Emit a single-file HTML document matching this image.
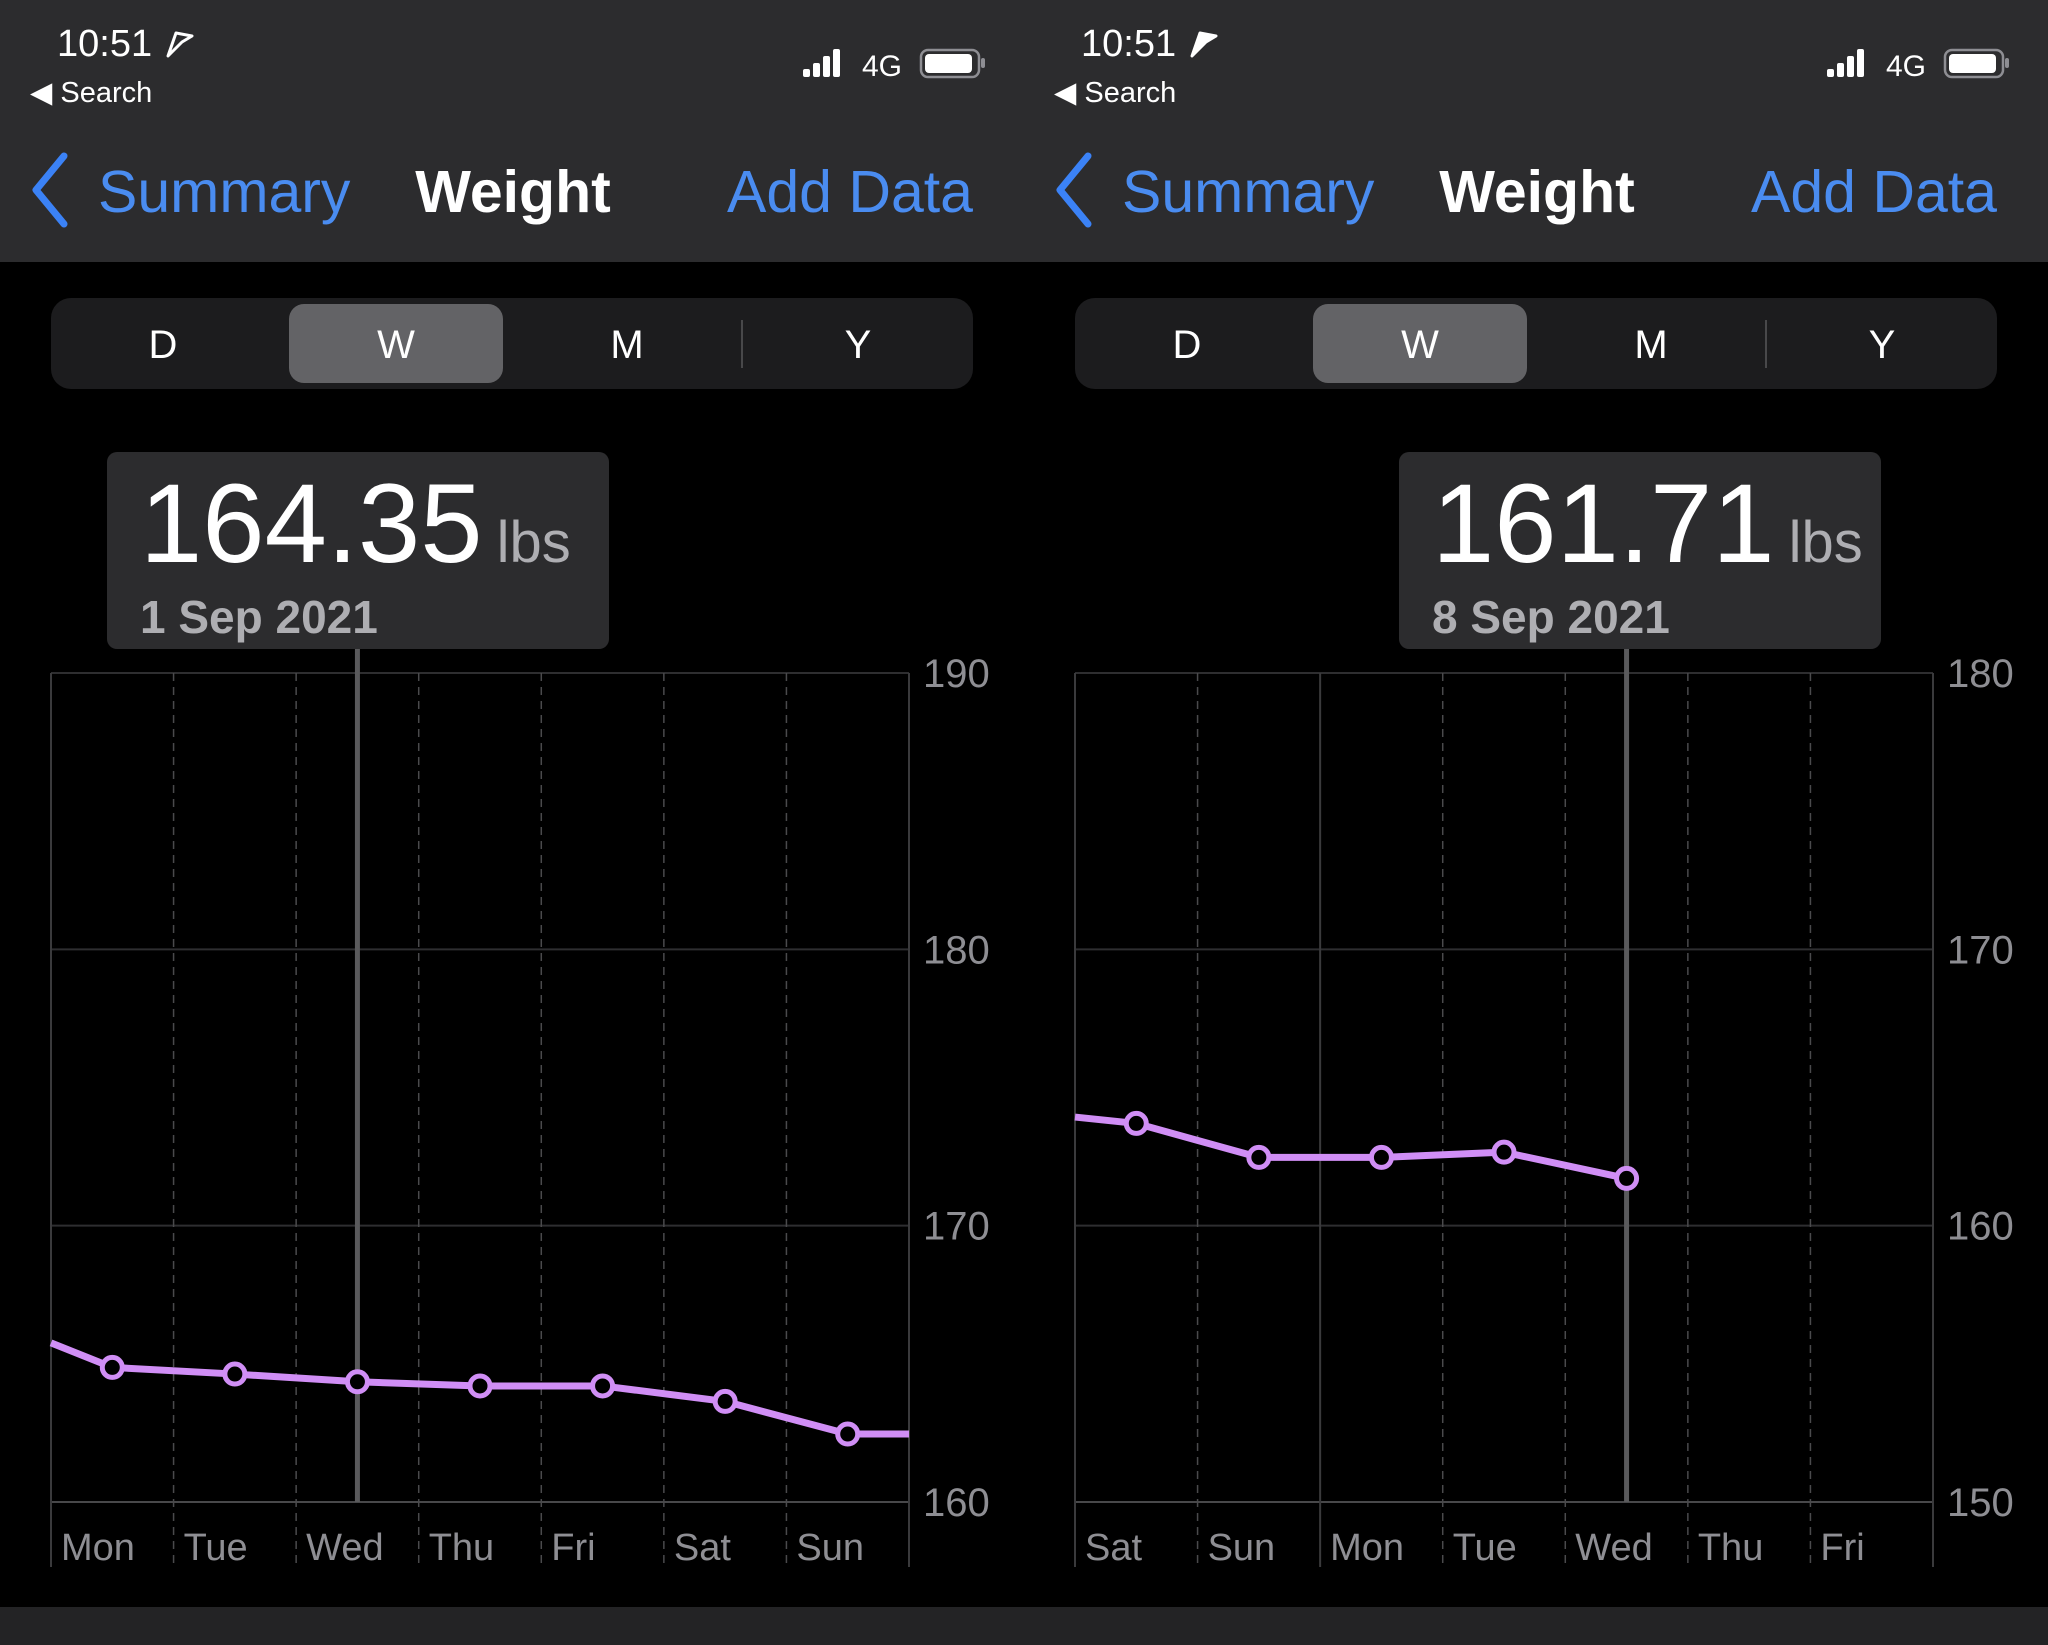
<!DOCTYPE html>
<html><head><meta charset="utf-8">
<style>
html,body{margin:0;padding:0;background:#000;}
svg{display:block;font-family:"Liberation Sans",sans-serif;}
</style></head>
<body>
<svg id="s" width="2048" height="1645" viewBox="0 0 2048 1645" xmlns="http://www.w3.org/2000/svg">
<rect x="0" y="0" width="2048" height="1645" fill="#000"/>
<rect x="0" y="1607" width="2048" height="38" fill="#232325"/>
</svg>
<script>
const leftDays = ["Mon","Tue","Wed","Thu","Fri","Sat","Sun"];
const leftValues = [164.87,164.63,164.35,164.2,164.2,163.64,162.46];
const leftLeadIn = 165.76;
const leftLeadOut = 162.46;
const leftTicks = [160,170,180,190];
const rightDays = ["Sat","Sun","Mon","Tue","Wed","Thu","Fri"];
const rightValues = [163.70,162.47,162.47,162.66,161.71];
const rightLeadIn = 163.93;
const rightTicks = [150,160,170,180];

const NS="http://www.w3.org/2000/svg";
const svg=document.getElementById('s');
function el(tag,attrs,parent,text){const e=document.createElementNS(NS,tag);for(const k in attrs)e.setAttribute(k,attrs[k]);if(text!==undefined)e.textContent=text;(parent||svg).appendChild(e);return e;}

function panel(ox,cfg){
  const g=el('g',{transform:'translate('+ox+',0)'});
  
  
  // header bg
  const hb=el('rect',{x:0,y:0,width:1024,height:262,fill:'#2c2c2e'},g);
  
  
  const t=el('text',{x:57,y:56,fill:'#fff','font-size':38},g,'10:51');
  
  
  const loc=el('path',{d:'M172 56 L180 33 L196 36 L186 42 Z',fill:cfg.locFill,stroke:'#fff','stroke-width':3,'stroke-linejoin':'round',transform:'translate(-4,0)'},g);
  
  
  const sb=el('text',{x:30,y:102,fill:'#fff','font-size':29},g,'◀ Search');
  
  
  const sig=el('g',{},g);
  
  
  [[803,69,8],[813,63,14],[823,56,21],[833,49,28]].forEach(a=>el('rect',{x:a[0],y:a[1],width:7,height:a[2],rx:2,fill:'#fff'},sig));
  const n4=el('text',{x:862,y:76,fill:'#fff','font-size':30},g,'4G');
  
  
  const bat=el('g',{},g);
  
  
  el('rect',{x:921,y:50,width:58,height:27,rx:7,fill:'none',stroke:'#8e8e93','stroke-width':2.5},bat);
  el('rect',{x:925,y:54,width:47,height:19,rx:4,fill:'#fff'},bat);
  el('rect',{x:981,y:58,width:4,height:10,rx:2,fill:'#8e8e93'},bat);
  // nav
  const back=el('g',{},g);
  
  
  el('path',{d:'M64 156 L36 190 L64 224',fill:'none',stroke:'#3b82f6','stroke-width':7,'stroke-linecap':'round','stroke-linejoin':'round'},back);
  el('text',{x:98,y:212,fill:'#4a8cf0','font-size':59},back,'Summary');
  const tt=el('text',{x:513,y:212,fill:'#fff','font-size':59,'font-weight':'bold','text-anchor':'middle'},g,'Weight');
  
  
  const ad=el('text',{x:973,y:212,fill:'#4a8cf0','font-size':59,'text-anchor':'end'},g,'Add Data');
  
  
  // segmented control
  const seg=el('g',{},g);
  
  
  el('rect',{x:51,y:298,width:922,height:91,rx:20,fill:'#1c1c1e'},seg);
  el('rect',{x:289,y:304,width:214,height:79,rx:15,fill:'#636366'},seg);
  el('line',{x1:742,y1:320,x2:742,y2:368,stroke:'#48484a','stroke-width':2},seg);
  [['D',163],['W',396],['M',627],['Y',858]].forEach(a=>{
    const s=el('text',{x:a[1],y:358,fill:'#fff','font-size':40,'text-anchor':'middle'},seg,a[0]);
    
    
  });
  // chart
  const L=51,R=909,T=673,B=1502,cw=(R-L)/7;
  const ymin=cfg.ticks[0],ymax=cfg.ticks[cfg.ticks.length-1];
  const y=v=>B-(v-ymin)/(ymax-ymin)*(B-T);
  const x=i=>L+cw*(i+0.5);
  cfg.ticks.forEach(v=>{
    const ln=el('line',{x1:L,y1:y(v),x2:R,y2:y(v),stroke:v===ymin?'#48484a':'#2e2e30','stroke-width':2},g);
    
    
    const lb=el('text',{x:923,y:y(v)+14,fill:'#8e8e93','font-size':40},g,String(v));
    
    
  });
  for(let i=0;i<=7;i++){
    const solid=(i===0||i===7||i===cfg.solidAt);
    const vl=el('line',{x1:L+cw*i,y1:T,x2:L+cw*i,y2:1567,stroke:solid?'#3a3a3c':'#4a4a4c','stroke-width':solid?2:1.5,'stroke-dasharray':solid?'none':'8 6'},g);
    
    
  }
  cfg.days.forEach((d,i)=>{
    const dl=el('text',{x:L+cw*i+10,y:1560,fill:'#8e8e93','font-size':38},g,d);
    
    
  });
  const sel=cfg.sel;
  const cur=el('line',{x1:x(sel),y1:649,x2:x(sel),y2:B,stroke:'#5a5a5c','stroke-width':5},g);
  
  
  const pts=[[L,y(cfg.leadIn)]];
  cfg.values.forEach((v,i)=>pts.push([x(i),y(v)]));
  if(cfg.leadOut!==null) pts.push([R,y(cfg.leadOut)]);
  const line=el('polyline',{points:pts.map(p=>p.join(',')).join(' '),fill:'none',stroke:'#d08ef5','stroke-width':7,'stroke-linejoin':'round'},g);
  
  
  cfg.values.forEach((v,i)=>{
    const c=el('circle',{cx:x(i),cy:y(v),r:10,fill:'#000',stroke:'#d08ef5','stroke-width':5},g);
    
    
  });
  // tooltip
  const tip=el('g',{},g);
  
  
  el('rect',{x:cfg.tipX,y:452,width:cfg.tipW,height:197,rx:10,fill:'#2c2c2e'},tip);
  const tv=el('text',{x:cfg.tipX+33,y:562,fill:'#fff','font-size':112},tip);
  el('tspan',{},tv,cfg.values[sel].toFixed(2));
  el('tspan',{fill:'#aeaeb2','font-size':58,dx:14},tv,'lbs');
  el('text',{x:cfg.tipX+33,y:633,fill:'#aeaeb2','font-size':46,'font-weight':'bold'},tip,cfg.date);
}
panel(0,{name:'left-screen',days:leftDays,values:leftValues,leadIn:leftLeadIn,leadOut:leftLeadOut,ticks:leftTicks,sel:2,solidAt:0,tipX:107,tipW:502,date:'1 Sep 2021',locFill:'none'});
panel(1024,{name:'right-screen',days:rightDays,values:rightValues,leadIn:rightLeadIn,leadOut:null,ticks:rightTicks,sel:4,solidAt:2,tipX:375,tipW:482,date:'8 Sep 2021',locFill:'#fff'});
</script>
</body></html>
